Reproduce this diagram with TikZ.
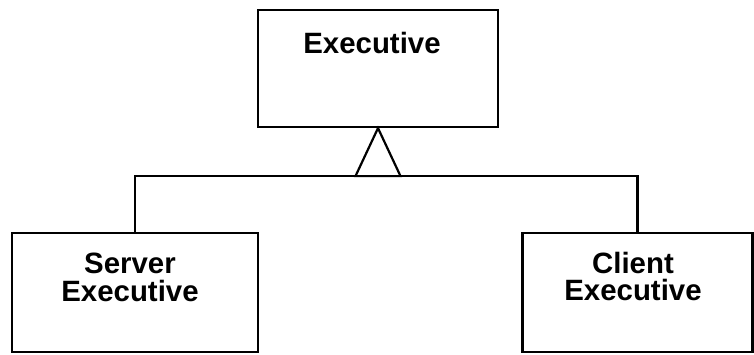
\documentclass[tikz,border=0pt]{standalone}
\usepackage{fontspec}
\setmainfont{Liberation Sans}
\usetikzlibrary{calc,positioning}

\begin{document}
\begin{tikzpicture}[
  x=1bp,y=-1bp,
  line join=miter,
  every node/.style={font=\bfseries\fontsize{29.5}{28}\selectfont},
  classbox/.style={draw=black,line width=2.2bp,rectangle,inner sep=0pt},
  classname/.style={align=center,inner sep=0pt},
  link/.style={black,line width=2.2bp}
]
% Bounding box.
\useasboundingbox (0,0) rectangle (754,354);

% Classes.
\node[classbox,minimum width=240bp,minimum height=117bp] (exec) at (378,68.5) {};
\node[classbox,minimum width=246bp,minimum height=119bp] (srv) at (135,292.5) {};
\node[classbox,minimum width=230bp,minimum height=119bp] (cli) at (637.5,292.5) {};

\node[classname] (execname) at (372,43) {Executive};
\node[classname] (srvname) at (130,277) {Server\\Executive};
\node[classname] (cliname) at (633,276.5) {Client\\Executive};

% Generalisation: triangle and branches.
\coordinate (joint) at ($(exec.south)+(0,48)$);
\draw[link] (exec.south) -- ($(joint)+(-22.5,0)$) -- ($(joint)+(22.5,0)$) -- cycle;
\draw[link] (srv.north) |- (joint) -| (cli.north);
\end{tikzpicture}
\end{document}
